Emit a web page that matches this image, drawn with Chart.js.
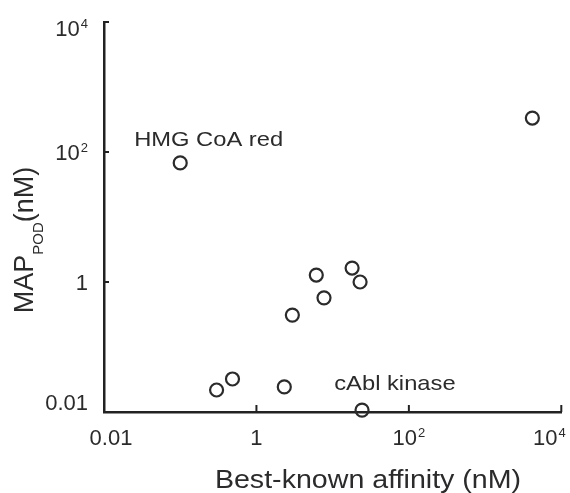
<!DOCTYPE html>
<html>
<head>
<meta charset="utf-8">
<script src="https://cdn.jsdelivr.net/npm/chart.js@4.4.1/dist/chart.umd.min.js"></script>
<style>
  html, body { margin: 0; padding: 0; background: #fff; }
  #wrap { width: 570px; height: 493px; }
</style>
</head>
<body>
<div id="wrap"><canvas id="chart"></canvas></div>
<script>
// best-known affinity (nM) vs MAP_POD (nM), both log scale
const affinity = [0.1, 4170, 0.30, 0.485, 2.32, 2.96, 6.1, 7.7, 18, 22.9, 24.3];
const mapPod = [68, 333, 0.0218, 0.0322, 0.0243, 0.31, 1.28, 0.57, 1.64, 1.0, 0.0107];

// tick values and their labels (base + superscript exponent)
const tickValues = [0.01, 1, 100, 10000];
const tickBase = ['0.01', '1', '10', '10'];
const tickExp = ['', '', '2', '4'];

// labelled targets, anchored in data coordinates
const noteText = ['HMG CoA red', 'cAbl kinase'];
const noteX = [0.236, 65.6];
const noteY = [152, 0.027];

const FONT = '"Liberation Sans", Arial, Helvetica, sans-serif';
const INK = '#2b2b2b';

const setTicks = (scale) => {
  scale.ticks = tickValues.map(v => ({ value: v }));
};

// draws "base^exp" with its alphabetic baseline at by; align = left|center|right
function drawPow(ctx, base, exp, x, by, align) {
  ctx.font = '22px ' + FONT;
  const wb = ctx.measureText(base).width;
  ctx.font = '13px ' + FONT;
  const we = exp ? ctx.measureText(exp).width + 1 : 0;
  const w = wb + we;
  let x0 = x;
  if (align === 'center') x0 = x - w / 2;
  if (align === 'right') x0 = x - w;
  ctx.textAlign = 'left';
  ctx.textBaseline = 'alphabetic';
  ctx.font = '22px ' + FONT;
  ctx.fillText(base, x0, by);
  if (exp) {
    ctx.font = '13px ' + FONT;
    ctx.fillText(exp, x0 + wb + 1, by - 8);
  }
}

const decor = {
  id: 'decor',
  afterDraw(chart) {
    const { ctx, chartArea: a } = chart;
    const x = chart.scales.x;
    const y = chart.scales.y;
    const last = tickValues.length - 1;

    ctx.save();
    // inward tick marks
    ctx.strokeStyle = '#222';
    ctx.lineWidth = 2;
    tickValues.forEach((v, i) => {
      if (i === 0) return;
      const px = x.getPixelForValue(v);
      ctx.beginPath();
      ctx.moveTo(px, a.bottom);
      ctx.lineTo(px, a.bottom - 7);
      ctx.stroke();
      const py = y.getPixelForValue(v);
      ctx.beginPath();
      ctx.moveTo(a.left, py);
      ctx.lineTo(a.left + 5, py);
      ctx.stroke();
    });

    // tick labels, end labels pulled inward
    ctx.fillStyle = INK;
    tickValues.forEach((v, i) => {
      const px = x.getPixelForValue(v);
      const dx = i === 0 ? 7 : (i === last ? -12 : 0);
      drawPow(ctx, tickBase[i], tickExp[i], px + dx, a.bottom + 33, 'center');
      const py = y.getPixelForValue(v);
      const dy = i === 0 ? -10 : (i === last ? 6 : 0);
      drawPow(ctx, tickBase[i], tickExp[i], a.left - 16, py + dy + 8, 'right');
    });

    // point annotations
    ctx.font = '21px ' + FONT;
    ctx.textAlign = 'center';
    ctx.textBaseline = 'middle';
    noteText.forEach((s, i) => {
      ctx.save();
      ctx.translate(x.getPixelForValue(noteX[i]), y.getPixelForValue(noteY[i]));
      ctx.scale(1.13, 1);
      ctx.fillText(s, 0, 0);
      ctx.restore();
    });

    // x title
    ctx.save();
    ctx.font = '26px ' + FONT;
    ctx.textAlign = 'center';
    ctx.textBaseline = 'alphabetic';
    ctx.translate(368, 488);
    ctx.scale(1.1, 1);
    ctx.fillText('Best-known affinity (nM)', 0, 0);
    ctx.restore();

    // y title with subscript
    ctx.save();
    ctx.textAlign = 'left';
    ctx.textBaseline = 'alphabetic';
    const big = '27px ' + FONT;
    const small = '15px ' + FONT;
    ctx.font = big;
    const w1 = ctx.measureText('MAP').width;
    const w3 = ctx.measureText('(nM)').width;
    ctx.font = small;
    const w2 = ctx.measureText('POD').width;
    const total = w1 + w2 + w3;
    ctx.translate(33, 240 + total / 2);
    ctx.rotate(-Math.PI / 2);
    ctx.font = big;
    ctx.fillText('MAP', 0, 0);
    ctx.font = small;
    ctx.fillText('POD', w1, 10);
    ctx.font = big;
    ctx.fillText('(nM)', w1 + w2, 0);
    ctx.restore();

    ctx.restore();
  }
};

new Chart(document.getElementById('chart'), {
  type: 'scatter',
  data: {
    datasets: [{
      data: affinity.map((v, i) => ({ x: v, y: mapPod[i] })),
      pointRadius: 6.5,
      pointHoverRadius: 6.5,
      borderWidth: 2.2,
      borderColor: INK,
      backgroundColor: 'rgba(0,0,0,0)',
      clip: false
    }]
  },
  plugins: [decor],
  options: {
    responsive: true,
    maintainAspectRatio: false,
    animation: false,
    layout: { padding: { top: 22, right: 7, left: 0, bottom: 0 } },
    plugins: {
      legend: { display: false },
      tooltip: { enabled: false }
    },
    scales: {
      x: {
        type: 'logarithmic',
        min: 0.01,
        max: 10000,
        afterBuildTicks: setTicks,
        afterFit(s) { s.height = 81; s.paddingLeft = 0; s.paddingRight = 0; },
        grid: { display: false },
        border: { display: true, color: '#222', width: 2.5 },
        ticks: { display: false }
      },
      y: {
        type: 'logarithmic',
        min: 0.01,
        max: 10000,
        afterBuildTicks: setTicks,
        afterFit(s) { s.width = 104; s.paddingTop = 0; s.paddingBottom = 0; },
        grid: { display: false },
        border: { display: true, color: '#222', width: 2.5 },
        ticks: { display: false }
      }
    }
  }
});
</script>
</body>
</html>
